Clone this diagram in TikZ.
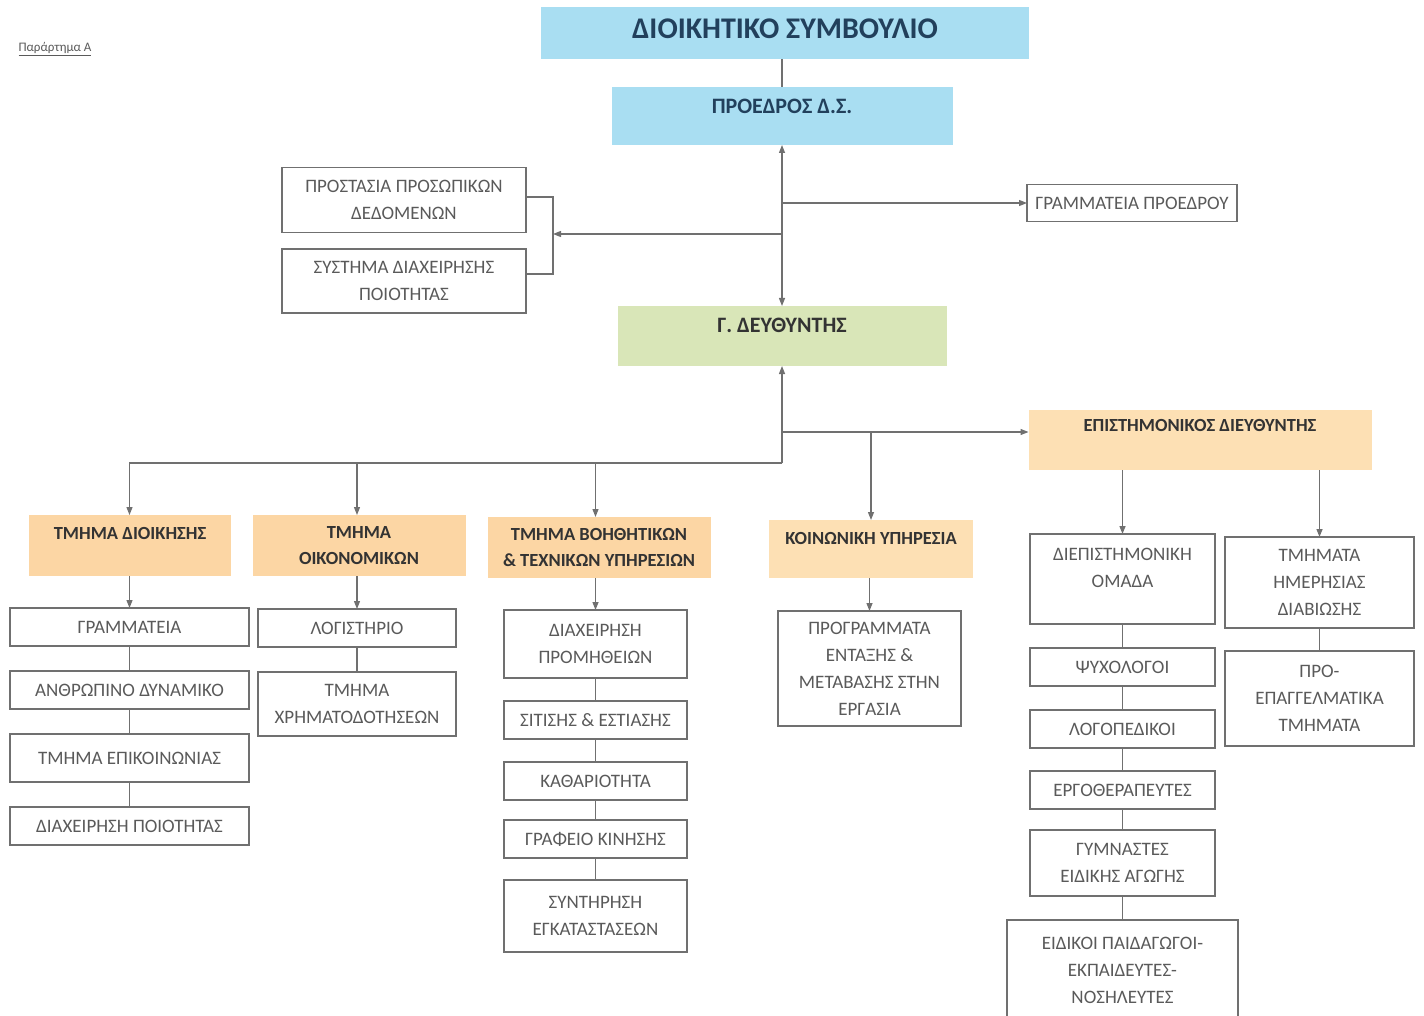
\documentclass[tikz,border=0pt]{standalone}
\usepackage{fontspec}
\setmainfont{Carlito}
\usepackage{xcolor}
\usetikzlibrary{arrows.meta}
\usetikzlibrary{positioning,
                calc}
\definecolor{boardblue}{HTML}{A9DEF2}
\definecolor{gdgreen}{HTML}{D9E6B8}
\definecolor{deptorange}{HTML}{FCD6A4}
\definecolor{sciorange}{HTML}{FDE0B4}
\definecolor{linegray}{HTML}{707070}
\definecolor{textgray}{HTML}{5A5A5A}
\definecolor{headtext}{HTML}{333333}
\definecolor{titletext}{HTML}{22405C}

\begin{document}
\begin{tikzpicture}[
        x=1pt, y=-1pt,
        node distance=23pt,
        >={Triangle[length=8pt,width=6pt]},
        every node/.style={outer sep=0pt, inner sep=4pt, align=center},
        unitbox/.style={draw=linegray, line width=1.3pt, fill=white, text=textgray, font=\fontsize{19}{27}\selectfont, minimum height=38pt},
        headbox/.style={fill=deptorange, text=headtext, font=\bfseries\fontsize{18.5}{26}\selectfont},
        conn/.style={draw=linegray, line width=1.3pt}
        ]
        \useasboundingbox (0,0) rectangle (1424,1016);

        % Top of the chart
        \node[text=textgray, font=\fontsize{13}{14}\selectfont] (annex) at (55,49) {\underline{Παράρτημα Α}};
        \node[fill=boardblue, text=titletext, font=\bfseries\fontsize{30}{32}\selectfont, minimum width=488pt, text height=28pt, text depth=16pt] (board) at (785,33) {ΔΙΟΙΚΗΤΙΚΟ ΣΥΜΒΟΥΛΙΟ};
        \node[fill=boardblue, text=titletext, font=\bfseries\fontsize{22}{24}\selectfont, minimum width=341pt, text height=23pt, text depth=27pt] (pres) at (782,116) {ΠΡΟΕΔΡΟΣ Δ.Σ.};
        \node[unitbox, minimum width=244pt, minimum height=65pt] (dpo) at (404,200) {ΠΡΟΣΤΑΣΙΑ ΠΡΟΣΩΠΙΚΩΝ\\ΔΕΔΟΜΕΝΩΝ};
        \node[unitbox, minimum width=244pt, minimum height=64pt] (qms) at (404,281) {ΣΥΣΤΗΜΑ ΔΙΑΧΕΙΡΗΣΗΣ\\ΠΟΙΟΤΗΤΑΣ};
        \node[unitbox, minimum width=210pt, minimum height=37pt] (sec) at (1132,203) {ΓΡΑΜΜΑΤΕΙΑ ΠΡΟΕΔΡΟΥ};
        \node[fill=gdgreen, text=headtext, font=\bfseries\fontsize{22}{24}\selectfont, minimum width=329pt, text height=22pt, text depth=30pt] (gd) at (782,336) {Γ. ΔΕΥΘΥΝΤΗΣ};

        % Departments
        \node[headbox, minimum width=202pt, text height=20pt, text depth=33pt] (admin) at (130,545.5) {ΤΜΗΜΑ ΔΙΟΙΚΗΣΗΣ};
        \node[headbox, minimum width=213pt, minimum height=61pt] (fin) at (359,545.5) {ΤΜΗΜΑ\\ΟΙΚΟΝΟΜΙΚΩΝ};
        \node[headbox, minimum width=223pt, minimum height=61pt] (tech) at (599,547.5) {ΤΜΗΜΑ ΒΟΗΘΗΤΙΚΩΝ\\\& ΤΕΧΝΙΚΩΝ ΥΠΗΡΕΣΙΩΝ};
        \node[headbox, fill=sciorange, minimum width=204pt, text height=20pt, text depth=30pt] (soc) at (871,549) {ΚΟΙΝΩΝΙΚΗ ΥΠΗΡΕΣΙΑ};
        \node[headbox, fill=sciorange, minimum width=343pt, text height=17pt, text depth=35pt] (sci) at (1200,440) {ΕΠΙΣΤΗΜΟΝΙΚΟΣ ΔΙΕΥΘΥΝΤΗΣ};

        % Units under each department
        \node[unitbox, minimum width=239pt] (gram) at (129.5,627) {ΓΡΑΜΜΑΤΕΙΑ};
        \node[unitbox, minimum width=239pt, below=25pt of gram] (hr) {ΑΝΘΡΩΠΙΝΟ ΔΥΝΑΜΙΚΟ};
        \node[unitbox, minimum width=239pt, minimum height=48pt, below=25pt of hr] (comm) {ΤΜΗΜΑ ΕΠΙΚΟΙΝΩΝΙΑΣ};
        \node[unitbox, minimum width=239pt, below=25pt of comm] (qual) {ΔΙΑΧΕΙΡΗΣΗ ΠΟΙΟΤΗΤΑΣ};

        \node[unitbox, minimum width=198pt] (acc) at (357,628) {ΛΟΓΙΣΤΗΡΙΟ};
        \node[unitbox, minimum width=198pt, minimum height=64pt, below=25pt of acc] (fund) {ΤΜΗΜΑ\\ΧΡΗΜΑΤΟΔΟΤΗΣΕΩΝ};

        \node[unitbox, minimum width=183pt, minimum height=68pt] (proc) at (595.5,644) {ΔΙΑΧΕΙΡΗΣΗ\\ΠΡΟΜΗΘΕΙΩΝ};
        \node[unitbox, minimum width=183pt, below=of proc] (food) {ΣΙΤΙΣΗΣ \& ΕΣΤΙΑΣΗΣ};
        \node[unitbox, minimum width=183pt, below=of food] (clean) {ΚΑΘΑΡΙΟΤΗΤΑ};
        \node[unitbox, minimum width=183pt, below=20pt of clean] (fleet) {ΓΡΑΦΕΙΟ ΚΙΝΗΣΗΣ};
        \node[unitbox, minimum width=183pt, minimum height=72pt, below=22pt of fleet] (maint) {ΣΥΝΤΗΡΗΣΗ\\ΕΓΚΑΤΑΣΤΑΣΕΩΝ};

        \node[unitbox, minimum width=183pt, minimum height=115pt] (prog) at (869.5,668.5) {ΠΡΟΓΡΑΜΜΑΤΑ\\ΕΝΤΑΞΗΣ \&\\ΜΕΤΑΒΑΣΗΣ ΣΤΗΝ\\ΕΡΓΑΣΙΑ};

        \node[unitbox, minimum width=185pt, minimum height=90pt, text depth=22pt] (inter) at (1122.5,579) {ΔΙΕΠΙΣΤΗΜΟΝΙΚΗ\\ΟΜΑΔΑ};
        \node[unitbox, minimum width=185pt, below=24pt of inter] (psy) {ΨΥΧΟΛΟΓΟΙ};
        \node[unitbox, minimum width=185pt, below=24pt of psy] (speech) {ΛΟΓΟΠΕΔΙΚΟΙ};
        \node[unitbox, minimum width=185pt, below=of speech] (ot) {ΕΡΓΟΘΕΡΑΠΕΥΤΕΣ};
        \node[unitbox, minimum width=185pt, minimum height=66pt, below=21pt of ot] (gym) {ΓΥΜΝΑΣΤΕΣ\\ΕΙΔΙΚΗΣ ΑΓΩΓΗΣ};
        \node[unitbox, minimum width=231pt, minimum height=100pt, below=24pt of gym] (edu) {ΕΙΔΙΚΟΙ ΠΑΙΔΑΓΩΓΟΙ-\\ΕΚΠΑΙΔΕΥΤΕΣ-\\ΝΟΣΗΛΕΥΤΕΣ};

        \node[unitbox, minimum width=189pt, minimum height=91pt] (day) at (1319.5,582.5) {ΤΜΗΜΑΤΑ\\ΗΜΕΡΗΣΙΑΣ\\ΔΙΑΒΙΩΣΗΣ};
        \node[unitbox, minimum width=189pt, minimum height=95pt, below=of day] (pre) {ΠΡΟ-\\ΕΠΑΓΓΕΛΜΑΤΙΚΑ\\ΤΜΗΜΑΤΑ};

        % Connectors at the top
        \coordinate (brk) at (553,234);
        \coordinate (secjoin) at (pres.south |- sec.west);
        \draw[conn] (pres.north) -- (pres.north |- board.south);
        \draw[conn, <->] (pres) -- (gd);
        \draw[conn, ->] (secjoin) -- (sec.west);
        \draw[conn, ->] (pres.south |- brk) -- (brk);
        \draw[conn] ([yshift=3pt]dpo.east) -| (brk) |- ([yshift=7pt]qms.east);

        % Connectors below the general director
        \coordinate (bus) at ($(gd.south)+(0,97)$);
        \coordinate (scibus) at ($(gd.south)+(0,66)$);
        \draw[conn, ->] (bus) -- (gd.south);
        \draw[conn, ->] (bus) -| (admin.north -| gram.north);
        \draw[conn, ->] (bus) -| (fin.north -| acc.north);
        \draw[conn, ->] (bus) -| (tech.north -| proc.north);
        \draw[conn, ->] (scibus) -- (scibus -| sci.west);
        \draw[conn, ->] (scibus -| soc.north) -- (soc.north);

        % Connectors inside the departments
        \draw[conn, ->] (admin.south -| gram.north) -- (gram.north);
        \draw[conn] (gram) -- (hr) -- (comm) -- (qual);
        \draw[conn, ->] (fin.south -| acc.north) -- (acc.north);
        \draw[conn] (acc) -- (fund);
        \draw[conn, ->] (tech.south -| proc.north) -- (proc.north);
        \draw[conn] (proc) -- (food) -- (clean) -- (fleet) -- (maint);
        \draw[conn, ->] (soc.south -| prog.north) -- (prog.north);
        \draw[conn, ->] (sci.south -| inter.north) -- (inter.north);
        \draw[conn, ->] (sci.south -| day.north) -- (day.north);
        \draw[conn] (inter) -- (psy) -- (speech) -- (ot) -- (gym) -- (edu);
        \draw[conn] (day) -- (pre);

\end{tikzpicture}
\end{document}
